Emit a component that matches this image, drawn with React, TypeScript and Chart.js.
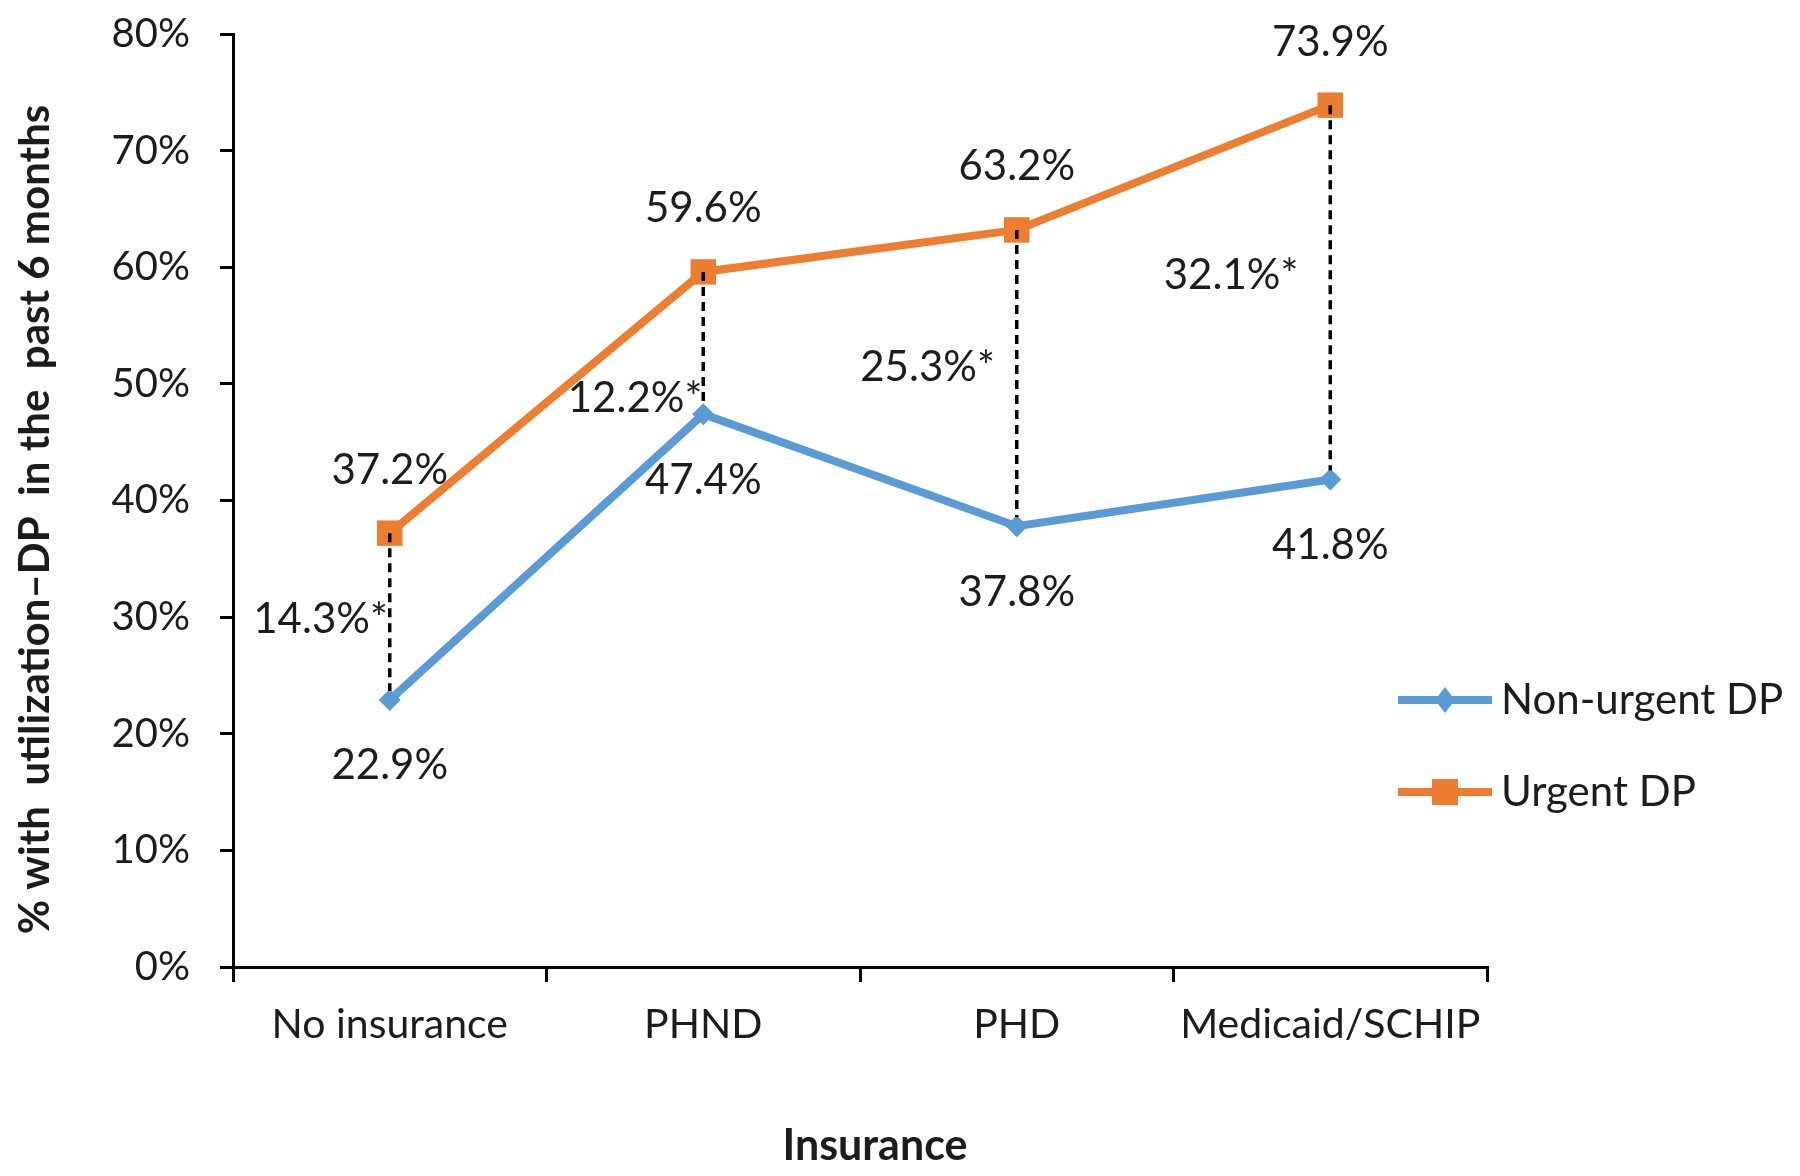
import React, { useEffect, useRef } from 'react';
import { Chart, registerables } from 'chart.js';

Chart.register(...registerables);

// ---- data ----
const categories = ['No insurance', 'PHND', 'PHD', 'Medicaid/SCHIP'];
const nonUrgent = [22.9, 47.4, 37.8, 41.8];
const urgent = [37.2, 59.6, 63.2, 73.9];
const gapLabels = ['14.3%*', '12.2%*', '25.3%*', '32.1%*'];
const seriesNames = ['Non-urgent DP', 'Urgent DP'];
const xTitle = 'Insurance';
const yTitle = '% with  utilization\u2013DP  in the  past 6 months';
const yMin = 0;
const yMax = 80;
const yStep = 10;

// ---- style ----
const BLUE = '#5B9BD5';
const ORANGE = '#ED7D31';
const TEXT = '#1c1c1c';
const FONT = 'Lato, "Open Sans", sans-serif';
// pixel nudges of the gap labels relative to the dashed connector [dx, dy]
const gapLabelShift: [number, number][] = [[-2, 3], [-1, 55], [-22, -11], [-32, -17]];

const annotate = {
  id: 'annotate',
  afterDatasetsDraw(chart: any) {
    const ctx = chart.ctx as CanvasRenderingContext2D;
    const mB = chart.getDatasetMeta(0);
    const mO = chart.getDatasetMeta(1);
    ctx.save();
    // dashed connectors
    ctx.setLineDash([9, 6]);
    ctx.lineWidth = 3.5;
    ctx.strokeStyle = '#000';
    for (let i = 0; i < categories.length; i++) {
      const o = mO.data[i];
      const b = mB.data[i];
      ctx.beginPath();
      ctx.moveTo(o.x, o.y);
      ctx.lineTo(b.x, b.y - 9);
      ctx.stroke();
    }
    ctx.setLineDash([]);

    // value labels
    ctx.fillStyle = TEXT;
    ctx.font = `42px ${FONT}`;
    ctx.textAlign = 'center';
    ctx.textBaseline = 'middle';
    for (let i = 0; i < categories.length; i++) {
      ctx.fillText(urgent[i].toFixed(1) + '%', mO.data[i].x, mO.data[i].y - 63);
      ctx.fillText(nonUrgent[i].toFixed(1) + '%', mB.data[i].x, mB.data[i].y + 66);
    }
    // gap labels
    ctx.textAlign = 'right';
    for (let i = 0; i < categories.length; i++) {
      const o = mO.data[i];
      const b = mB.data[i];
      const [dx, dy] = gapLabelShift[i];
      ctx.fillText(gapLabels[i], o.x + dx, (o.y + b.y) / 2 + dy);
    }

    const area = chart.chartArea;

    // axis titles
    ctx.font = `bold 43px ${FONT}`;
    ctx.textAlign = 'center';
    ctx.fillText(xTitle, (area.left + area.right) / 2 + 15, 1146);
    ctx.save();
    ctx.translate(35, (area.top + area.bottom) / 2 + 19);
    ctx.rotate(-Math.PI / 2);
    ctx.font = `bold 42px ${FONT}`;
    ctx.fillText(yTitle, 0, 0);
    ctx.restore();

    // legend
    const lx0 = area.right - 89;
    const lx1 = area.right + 5;
    const mx = (lx0 + lx1) / 2;
    const rows = [700, 792];
    chart.data.datasets.forEach((ds: any, k: number) => {
      const y = rows[k];
      ctx.strokeStyle = ds.borderColor;
      ctx.lineWidth = 8;
      ctx.beginPath();
      ctx.moveTo(lx0, y);
      ctx.lineTo(lx1, y);
      ctx.stroke();
      ctx.fillStyle = ds.borderColor;
      if (ds.pointStyle === 'rect') {
        ctx.fillRect(mx - 13, y - 13, 26, 26);
      } else {
        ctx.beginPath();
        ctx.moveTo(mx, y - 13);
        ctx.lineTo(mx + 10, y);
        ctx.lineTo(mx, y + 13);
        ctx.lineTo(mx - 10, y);
        ctx.closePath();
        ctx.fill();
      }
      ctx.fillStyle = TEXT;
      ctx.textAlign = 'left';
      ctx.font = `42px ${FONT}`;
      ctx.fillText(ds.label, lx1 + 9, y);
    });
    ctx.restore();
  },
};

export default function App() {
  const ref = useRef<HTMLCanvasElement | null>(null);

  useEffect(() => {
    if (!ref.current) return;
    const chart = new Chart(ref.current, {
      type: 'line',
      data: {
        labels: categories,
        datasets: [
          {
            label: seriesNames[0],
            data: nonUrgent,
            borderColor: BLUE,
            backgroundColor: BLUE,
            borderWidth: 8,
            pointStyle: 'rectRot',
            pointRadius: 11,
            pointBorderWidth: 0,
            pointHoverRadius: 11,
            tension: 0,
          },
          {
            label: seriesNames[1],
            data: urgent,
            borderColor: ORANGE,
            backgroundColor: ORANGE,
            borderWidth: 8,
            pointStyle: 'rect',
            pointRadius: 18,
            pointBorderWidth: 0,
            pointHoverRadius: 18,
            tension: 0,
          },
        ],
      },
      options: {
        animation: false,
        responsive: false,
        devicePixelRatio: 1,
        layout: { padding: { top: 34, right: 313, bottom: 0, left: 0 } },
        plugins: {
          legend: { display: false },
          tooltip: { enabled: false },
        },
        scales: {
          x: {
            type: 'category',
            offset: true,
            grid: {
              offset: true,
              drawOnChartArea: false,
              drawTicks: true,
              tickLength: 15,
              color: '#000',
              lineWidth: 3,
            },
            border: { display: true, color: '#000', width: 3 },
            ticks: { font: { family: FONT, size: 41 }, color: TEXT, padding: 18, maxRotation: 0 },
            title: { display: false, text: xTitle },
            afterFit: (s: any) => {
              s.height = 209;
            },
          },
          y: {
            min: yMin,
            max: yMax,
            ticks: {
              stepSize: yStep,
              callback: (v: any) => v + '%',
              font: { family: FONT, size: 40 },
              color: TEXT,
              padding: 30,
            },
            grid: {
              drawOnChartArea: false,
              drawTicks: true,
              tickLength: 13,
              color: '#000',
              lineWidth: 3,
            },
            border: { display: true, color: '#000', width: 3 },
            title: { display: false, text: yTitle },
            afterFit: (s: any) => {
              s.width = 233;
              s.paddingTop = 0;
              s.paddingBottom = 0;
            },
          },
        },
      },
      plugins: [annotate],
    } as any);
    return () => chart.destroy();
  }, []);

  return (
    <div style={{ position: 'fixed', left: 0, top: 0, width: 1800, height: 1176, background: '#fff' }}>
      <canvas ref={ref} width={1800} height={1176} style={{ display: 'block' }} />
    </div>
  );
}
